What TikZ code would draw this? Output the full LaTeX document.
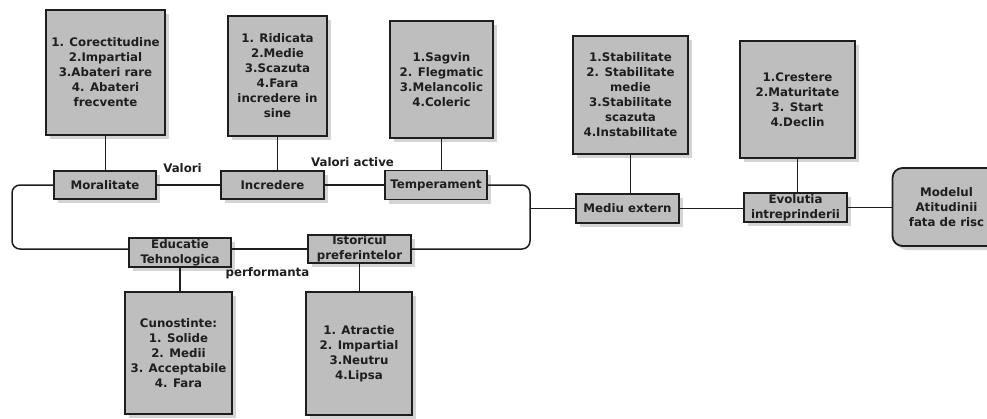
\documentclass[tikz,border=0pt]{standalone}
\usepackage{fontspec}
\setmainfont{DejaVu Sans}
\usetikzlibrary{shadows}
\definecolor{boxfill}{HTML}{BEBEBE}
\definecolor{boxshadow}{HTML}{D4D4D4}
\definecolor{ink}{HTML}{1E1E1E}
\tikzset{
  box/.style={draw=ink, line width=1.8pt, fill=boxfill, align=center, inner sep=2pt,
    font=\bfseries\fontsize{11.8}{15}\selectfont, text=ink,
    drop shadow={shadow xshift=4pt, shadow yshift=-4pt, fill=boxshadow, opacity=1}},
  link/.style={draw=ink, line width=1.5pt},
  lbl/.style={font=\bfseries\fontsize{11.8}{15}\selectfont, text=ink, inner sep=0pt},
}
\begin{document}
\begin{tikzpicture}[x=1pt,y=-1pt]
\useasboundingbox (0,0) rectangle (987,418);

% value lists
\node[box, minimum width=119, minimum height=125] (morup) at (105.5,72.5)
  {1. Corectitudine\\2.Impartial\\3.Abateri rare\\4. Abateri\\frecvente};
\node[box, minimum width=99, minimum height=120] (incup) at (277.5,76)
  {1. Ridicata\\2.Medie\\3.Scazuta\\4.Fara\\incredere in\\sine};
\node[box, minimum width=103, minimum height=117] (temup) at (441.5,79.5)
  {1.Sagvin\\2. Flegmatic\\3.Melancolic\\4.Coleric};
\node[box, minimum width=115, minimum height=118] (medup) at (630.5,95)
  {1.Stabilitate\\2. Stabilitate\\medie\\3.Stabilitate\\scazuta\\4.Instabilitate};
\node[box, minimum width=115, minimum height=117] (evoup) at (797.5,99.5)
  {1.Crestere\\2.Maturitate\\3. Start\\4.Declin};
\node[box, minimum width=107, minimum height=122] (cun) at (178.5,353)
  {Cunostinte:\\1. Solide\\2. Medii\\3. Acceptabile\\4. Fara};
\node[box, minimum width=106, minimum height=123] (atr) at (359,353.5)
  {1. Atractie\\2. Impartial\\3.Neutru\\4.Lipsa};

% factors
\node[box, minimum width=102, minimum height=28] (mor) at (105,185) {Moralitate};
\node[box, minimum width=103, minimum height=28] (inc) at (272.5,185) {Incredere};
\node[box, minimum width=102, minimum height=29] (tem) at (436,185) {Temperament};
\node[box, minimum width=102, minimum height=29, inner sep=1pt] (edu) at (180,252.5) {Educatie\\Tehnologica};
\node[box, minimum width=103, minimum height=28, inner sep=1pt] (ist) at (359.5,249) {Istoricul\\preferintelor};
\node[box, minimum width=103, minimum height=29] (med) at (627.5,208.5) {Mediu extern};
\node[box, minimum width=103, minimum height=29, inner sep=1pt] (evo) at (795.5,207.5) {Evolutia\\intreprinderii};
\node[box, rounded corners=10pt, minimum width=108, minimum height=78] (mod) at (946.5,207)
  {Modelul\\Atitudinii\\fata de risc};

% labels on the links
\node[lbl] (valori) at (182.5,168) {Valori};
\node[lbl] (valact) at (352.5,162) {Valori active};
\node[lbl] (perf) at (267.5,273) {performanta};

% vertical links to the lists
\draw[link] (morup.south) -- (morup.south |- mor.north);
\draw[link] (incup.south) -- (incup.south |- inc.north);
\draw[link] (temup.south) -- (temup.south |- tem.north);
\draw[link] (medup.south) -- (medup.south |- med.north);
\draw[link] (evoup.south) -- (evoup.south |- evo.north);
\draw[link] (edu.south) -- (edu.south |- cun.north);
\draw[link] (ist.south) -- (ist.south |- atr.north);

% the loop of personal factors
\coordinate (loopL) at (12,220);
\coordinate (loopR) at (530,220);
\coordinate (junc) at (530,208.5);
\draw[link] (mor.east) -- (inc.west);
\draw[link] (inc.east) -- (tem.west);
\draw[link] (ist.west) -- (ist.west -| edu.east);
\draw[link, rounded corners=8pt] (mor.west) -| (loopL) |- (edu.west |- ist.west);
\draw[link, rounded corners=8pt] (ist.east) -| (loopR) |- (tem.east);

% chain to the model
\draw[link] (junc) -- (med.west);
\draw[link] (med.east) -- (med.east -| evo.west);
\draw[link] (evo.east) -- (evo.east -| mod.west);
\end{tikzpicture}
\end{document}
